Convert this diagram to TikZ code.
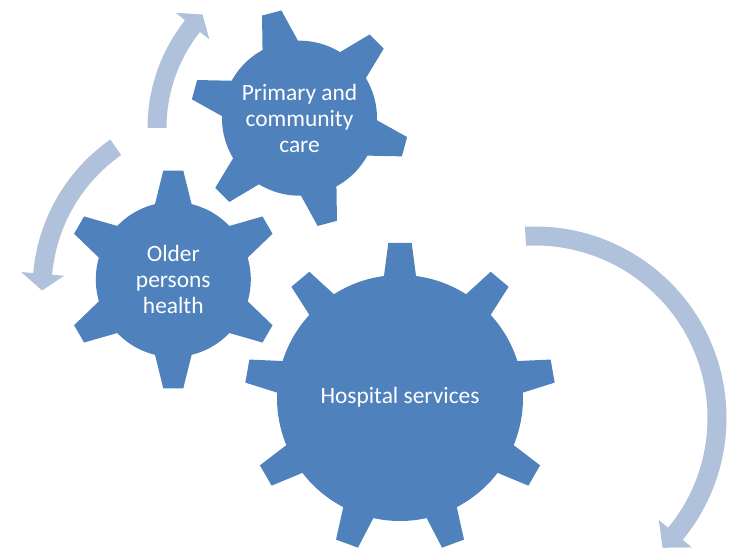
\documentclass[tikz,border=0pt]{standalone}
\usepackage{fontspec}
\setmainfont{Carlito}
\definecolor{gearblue}{RGB}{79,129,189}
\definecolor{arrowblue}{RGB}{176,193,220}
\begin{document}
\begin{tikzpicture}[x=1pt,y=1pt,
  gearfill/.style={fill=gearblue},
  arrowfill/.style={fill=arrowblue},
  geartext/.style={text=white, align=center, inner sep=0pt,
    font=\fontsize{23.4}{26}\selectfont}]
\useasboundingbox (0,0) rectangle (734,549);

% circular arrows
\begin{scope}[shift={(321,421)}]
  \fill[arrowfill] (180:173.5) arc[start angle=180,end angle=141.6,radius=173.5]
    -- (141.6:185.5) -- (136.2:164) -- (141.6:142.5) -- (141.6:154.5)
    arc[start angle=141.6,end angle=180,radius=154.5] -- cycle;
\end{scope}
\begin{scope}[shift={(215,260)}]
  \fill[arrowfill] (125:182.5) arc[start angle=125,end angle=175,radius=182.5]
    -- (175:194.5) -- (180.5:173) -- (175:151.5) -- (175:163.5)
    arc[start angle=175,end angle=125,radius=163.5] -- cycle;
\end{scope}
\begin{scope}[shift={(535,131)}]
  \fill[arrowfill] (93:191.5) arc[start angle=93,end angle=-39.5,radius=191.5]
    -- (-39.5:203.5) -- (-45.5:182) -- (-39.5:160.5) -- (-39.5:172.5)
    arc[start angle=-39.5,end angle=93,radius=172.5] -- cycle;
\end{scope}

% big gear (9 teeth)
\begin{scope}[shift={(400,151)}]
  \fill[gearfill] (0,0) circle[radius=123];
  \foreach \a in {90,130,...,410}
    \fill[gearfill,rotate=\a] (110,-17.6) -- (155,-11.7) -- (155,11.7) -- (110,17.6) -- cycle;
\end{scope}

% older persons gear (6 teeth)
\begin{scope}[shift={(173.3,269.5)}]
  \fill[gearfill] (0,0) circle[radius=77.5];
  \foreach \a in {90,150,...,390}
    \fill[gearfill,rotate=\a] (65,-20.9) -- (108.8,-10) -- (108.8,10) -- (65,20.9) -- cycle;
\end{scope}

% primary gear (6 teeth, rotated)
\begin{scope}[shift={(299.5,430.8)},rotate=14.8]
  \fill[gearfill] (0,0) circle[radius=77.5];
  \foreach \a in {90,150,...,390}
    \fill[gearfill,rotate=\a] (65,-20.9) -- (108.8,-10) -- (108.8,10) -- (65,20.9) -- cycle;
\end{scope}

\node[geartext] (hosp) at (400,152) {Hospital services};
\node[geartext] (older) at (173.3,269.5) {Older\\persons\\health};
\node[geartext] (prim) at (299.5,430.8) {Primary and\\community\\care};
\end{tikzpicture}
\end{document}
